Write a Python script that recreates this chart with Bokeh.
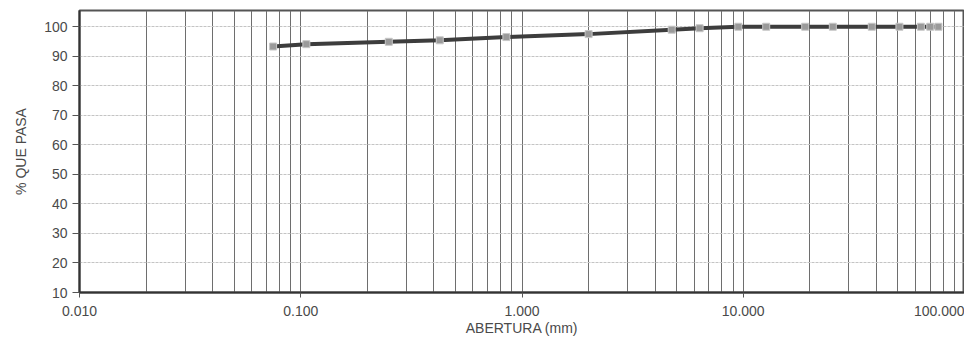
from bokeh.plotting import figure
from bokeh.models import FixedTicker, PrintfTickFormatter, Range1d
from bokeh.embed import file_html
from bokeh.resources import INLINE

# Sieve openings (mm) and percent passing
abertura = [0.075, 0.106, 0.25, 0.425, 0.85, 2.0, 4.75, 6.35, 9.5, 12.7,
            19.05, 25.4, 38.1, 50.8, 63.5, 70.0, 76.2]
pasa = [93.3, 94.1, 94.9, 95.4, 96.5, 97.5, 99.0, 99.5, 100.0, 100.0,
        100.0, 100.0, 100.0, 100.0, 100.0, 100.0, 100.0]

x_major = [0.01, 0.1, 1.0, 10.0, 100.0]
y_ticks = [10, 20, 30, 40, 50, 60, 70, 80, 90, 100]
x_minor = [m * d for d in x_major[:-1] for m in range(2, 10)]

FONT = "Liberation Sans"
TXT = "#4a4a4a"

p = figure(width=964, height=347, x_axis_type="log",
           x_range=Range1d(0.01, 100.0), y_range=Range1d(10, 105.5),
           output_backend="svg", toolbar_location=None,
           min_border_left=79, min_border_right=0, min_border_top=10,
           min_border_bottom=55, background_fill_color="white",
           border_fill_color="white")

p.xaxis.ticker = FixedTicker(ticks=x_major, minor_ticks=x_minor)
p.xaxis.formatter = PrintfTickFormatter(format="%.3f")
p.yaxis.ticker = FixedTicker(ticks=y_ticks)

for ax in (p.xaxis[0], p.yaxis[0]):
    ax.major_label_text_font = FONT
    ax.major_label_text_font_size = "14px"
    ax.major_label_text_color = TXT
    ax.axis_label_text_font = FONT
    ax.axis_label_text_font_size = "14px"
    ax.axis_label_text_font_style = "normal"
    ax.axis_label_text_color = TXT
    ax.axis_line_color = "#333333"
    ax.axis_line_width = 2
    ax.major_tick_line_color = "#555555"
    ax.minor_tick_line_color = None
    ax.major_tick_in = 0

p.xaxis.axis_label = "ABERTURA (mm)"
p.xaxis.major_tick_out = 5
p.xaxis.major_label_standoff = 8
p.xaxis.axis_label_standoff = 1

p.yaxis.axis_label = "% QUE PASA"
p.yaxis.major_tick_out = 7
p.yaxis.major_label_standoff = 5
p.yaxis.axis_label_standoff = 12

p.xgrid.grid_line_color = "#6e6e6e"
p.xgrid.grid_line_width = 1
p.xgrid.minor_grid_line_color = "#6e6e6e"
p.xgrid.minor_grid_line_width = 1
p.ygrid.grid_line_color = "#c4c4c4"
p.ygrid.grid_line_width = 1
p.ygrid.grid_line_dash = "3 1"

p.outline_line_color = "#555555"
p.outline_line_width = 2

p.line(abertura, pasa, line_color="#3d3d3d", line_width=4)
p.scatter(abertura, pasa, marker="square", size=7,
          fill_color="#9a9a9a", line_color="#c8c8c8", line_width=1)

open("out.html", "w").write(file_html(p, INLINE))
